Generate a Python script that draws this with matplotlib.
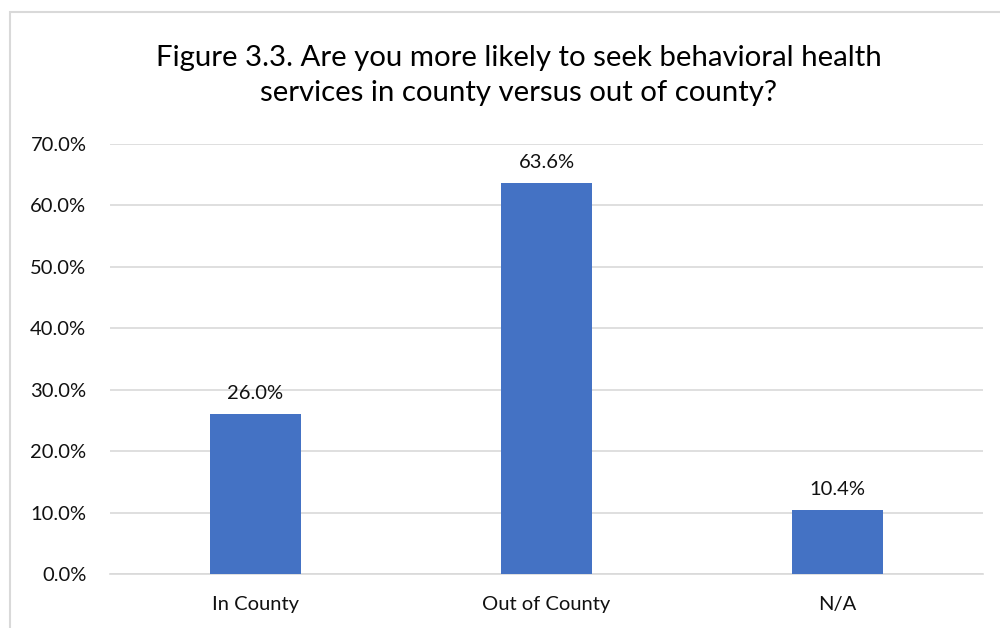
import matplotlib
matplotlib.use("Agg")
import matplotlib.pyplot as plt
from matplotlib.patches import Rectangle

categories = ["In County", "Out of County", "N/A"]
values = [26.0, 63.6, 10.4]
yticks = [0, 10, 20, 30, 40, 50, 60, 70]

plt.rcParams['font.family'] = ['Lato', 'DejaVu Sans']

fig = plt.figure(figsize=(10, 6.28), dpi=100)
fig.patch.set_facecolor("white")
# outer chart frame
fig.patches.append(Rectangle((0.010, -0.05), 1.05, 1 - 0.019 + 0.05, transform=fig.transFigure,
                             fill=False, edgecolor="#d9d9d9", linewidth=1.5))

ax = fig.add_axes([0.110, 0.086, 0.873, 0.6847])
x = range(len(categories))
bars = ax.bar(x, values, width=0.316, color="#4472c4", zorder=3)
ax.set_xlim(-0.5, len(categories) - 0.5)
ax.set_ylim(0, 70)
ax.set_yticks(yticks)
ax.set_yticklabels([f"{v:.1f}%" for v in yticks], fontsize=14.5, color="#111111")
ax.set_xticks(list(x))
ax.set_xticklabels(categories, fontsize=14.5, color="#111111")
ax.tick_params(axis="both", length=0)
ax.tick_params(axis="y", pad=17)
ax.tick_params(axis="x", pad=16)
ax.grid(axis="y", color="#d9d9d9", linewidth=1.2, zorder=0)
for s in ["top", "right", "left"]:
    ax.spines[s].set_visible(False)
ax.spines["bottom"].set_color("#d9d9d9")
ax.spines["bottom"].set_linewidth(1.2)

for b, v in zip(bars, values):
    ax.annotate(f"{v:.1f}%", (b.get_x() + b.get_width() / 2, v), xytext=(0, 9),
                textcoords="offset points", ha="center", va="bottom", fontsize=14.5, color="#111111")

fig.text(0.519, 0.880, "Figure 3.3. Are you more likely to seek behavioral health\nservices in county versus out of county?",
         ha="center", va="center", fontsize=21.2, color="#000000", linespacing=1.45)

fig.savefig("out.png", dpi=100)
